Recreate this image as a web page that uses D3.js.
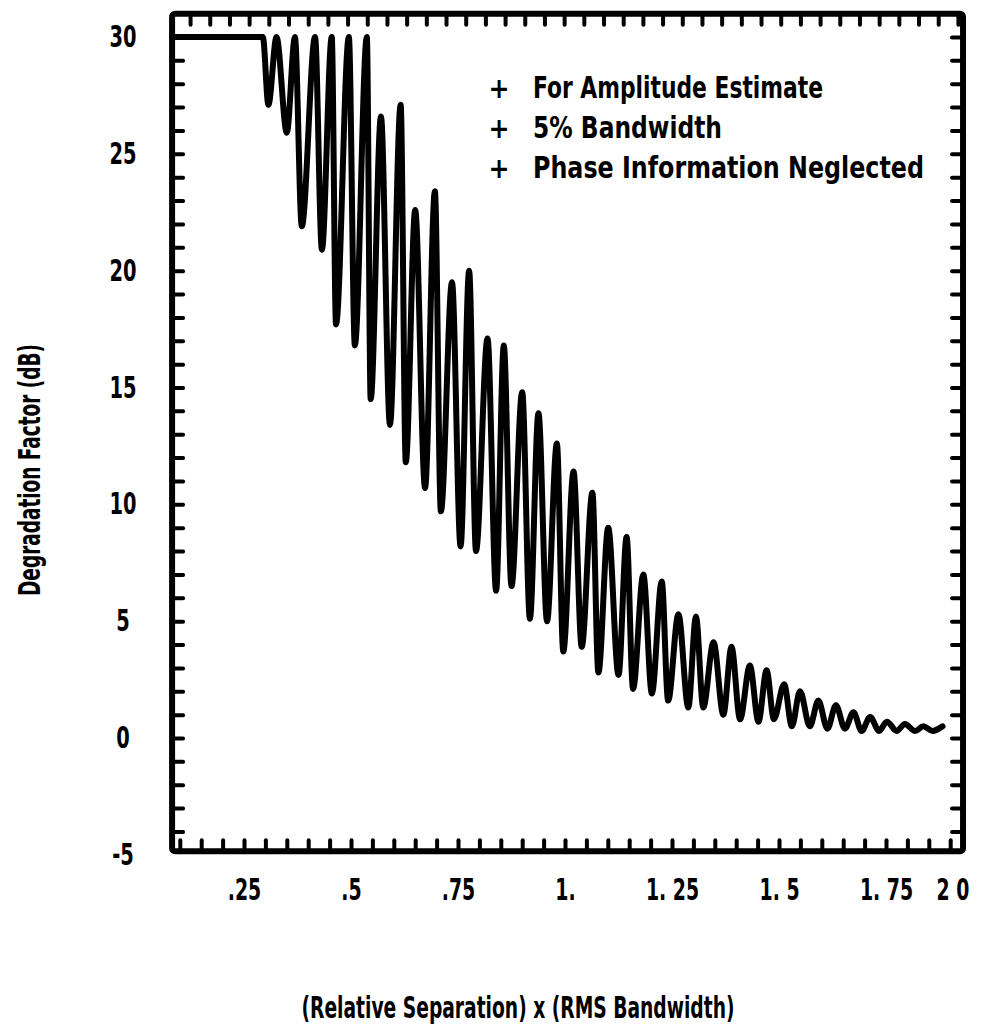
<!DOCTYPE html>
<html>
<head>
<meta charset="utf-8">
<script src="https://cdn.jsdelivr.net/npm/d3@7"></script>
<style>
  body { margin: 0; background: #fff; }
  svg { display: block; }
  text { font-family: "DejaVu Sans Condensed", "DejaVu Sans", sans-serif; font-weight: bold; fill: #000; }
</style>
</head>
<body>
<div id="chart-container"></div>
<script>
// curve: alternating peaks / troughs
const curveX = [0.082, 0.294, 0.307, 0.326, 0.350, 0.369, 0.385, 0.416, 0.432, 0.455,
  0.465, 0.495, 0.509, 0.537, 0.546, 0.570, 0.591, 0.616, 0.628, 0.650,
  0.673, 0.696, 0.710, 0.736, 0.756, 0.776, 0.792, 0.819, 0.839, 0.857,
  0.875, 0.900, 0.918, 0.938, 0.958, 0.981, 0.996, 1.020, 1.039, 1.064,
  1.078, 1.101, 1.125, 1.144, 1.159, 1.183, 1.203, 1.226, 1.241, 1.265,
  1.288, 1.306, 1.323, 1.347, 1.370, 1.389, 1.409, 1.432, 1.452, 1.471,
  1.488, 1.512, 1.530, 1.549, 1.572, 1.592, 1.613, 1.633, 1.654, 1.674,
  1.693, 1.713, 1.734, 1.752, 1.775, 1.794, 1.818, 1.837, 1.859, 1.882];
const curveDb = [30, 30, 27.1, 30, 25.9, 30, 21.9, 30, 20.9, 30,
  17.7, 30, 16.8, 30, 14.5, 26.6, 13.4, 27.1, 11.8, 22.6,
  10.7, 23.4, 9.7, 19.5, 8.2, 20.0, 8.0, 17.1, 6.3, 16.8,
  6.5, 14.8, 5.1, 13.9, 5.0, 12.6, 3.7, 11.4, 3.9, 10.5,
  2.8, 9.0, 2.7, 8.6, 2.1, 7.0, 1.9, 6.7, 1.6, 5.3,
  1.3, 5.2, 1.3, 4.1, 1.0, 3.9, 0.8, 3.1, 0.7, 2.9,
  0.8, 2.3, 0.5, 2.0, 0.5, 1.6, 0.4, 1.4, 0.4, 1.1,
  0.3, 0.9, 0.3, 0.7, 0.3, 0.6, 0.3, 0.5, 0.3, 0.5];

const yLabelValues = [30, 25, 20, 15, 10, 5, 0, -5];
const xLabelValues = [0.25, 0.5, 0.75, 1.0, 1.25, 1.5, 1.75, 1.905];
const xLabels = [".25", ".5", ".75", "1.", "1. 25", "1. 5", "1. 75", "2 0"];
const notes = ["For Amplitude Estimate", "5% Bandwidth", "Phase Information Neglected"];

// squash text horizontally (the original lettering is narrow)
function squeeze(sel, k) {
  sel.each(function () {
    const w = this.getComputedTextLength();
    d3.select(this).attr("textLength", w * k).attr("lengthAdjust", "spacingAndGlyphs");
  });
}

function chart() {
  const width = 984;
  const height = 1034;

  const x = d3.scaleLinear().domain([0.25, 1.75]).range([244, 886]);
  const y = d3.scaleLinear().domain([0, 30]).range([738, 37]);

  const frameX = [0.082, 1.93];
  const frameY = [-4.85, 31.0];
  const fl = x(frameX[0]), fr = x(frameX[1]);
  const ft = y(frameY[1]), fb = y(frameY[0]);

  const svg = d3.create("svg")
    .attr("width", width)
    .attr("height", height)
    .attr("viewBox", [0, 0, width, height]);

  // attach first so text can be measured
  d3.select("#chart-container").append(() => svg.node());

  svg.append("rect").attr("width", width).attr("height", height).attr("fill", "#fff");

  // inward ticks on all four sides
  const tickStyle = g => {
    g.select(".domain").remove();
    g.selectAll("line").attr("stroke", "#000").attr("stroke-width", 4).attr("stroke-linecap", "round");
  };
  const yTicks = d3.range(-4, 31, 1);
  svg.append("g").attr("transform", `translate(${fl},0)`)
    .call(d3.axisRight(y).tickValues(yTicks).tickSize(11).tickFormat(""))
    .call(tickStyle);
  svg.append("g").attr("transform", `translate(${fr},0)`)
    .call(d3.axisLeft(y).tickValues(yTicks).tickSize(11).tickFormat(""))
    .call(tickStyle);
  svg.append("g").attr("transform", `translate(0,${fb})`)
    .call(d3.axisTop(x).tickValues(d3.range(0.1, 1.91, 0.05)).tickSize(11).tickFormat(""))
    .call(tickStyle);
  svg.append("g").attr("transform", `translate(0,${ft})`)
    .call(d3.axisBottom(x).tickValues(d3.range(0.124, 1.92, 0.046)).tickSize(11).tickFormat(""))
    .call(tickStyle);

  // frame
  svg.append("rect")
    .attr("x", fl).attr("y", ft)
    .attr("width", fr - fl).attr("height", fb - ft)
    .attr("rx", 3)
    .attr("fill", "none").attr("stroke", "#000").attr("stroke-width", 6);

  // curve
  const pts = curveX.map((v, i) => [v, curveDb[i]]);
  const line = d3.line()
    .x(d => x(d[0]))
    .y(d => y(d[1]))
    .curve(d3.curveMonotoneX);
  svg.append("path")
    .datum(pts)
    .attr("d", line)
    .attr("fill", "none")
    .attr("stroke", "#000")
    .attr("stroke-width", 6)
    .attr("stroke-linejoin", "round")
    .attr("stroke-linecap", "round");

  // y labels
  const gy = svg.append("g").attr("transform", "translate(123,0)")
    .call(d3.axisLeft(y).tickValues(yLabelValues).tickSize(0).tickFormat(d => d < 0 ? "-" + (-d) : d));
  gy.select(".domain").remove();
  gy.attr("font-family", null).attr("font-size", 30);
  gy.selectAll("text").attr("x", 0).attr("text-anchor", "middle").call(squeeze, 0.72);

  // x labels
  const gx = svg.append("g").attr("transform", "translate(0,900)")
    .call(d3.axisBottom(x).tickValues(xLabelValues).tickSize(0).tickFormat((d, i) => xLabels[i]));
  gx.select(".domain").remove();
  gx.attr("font-family", null).attr("font-size", 30);
  gx.selectAll("text").attr("y", 0).attr("dy", 0).call(squeeze, 0.7);

  // notes
  const noteWidths = [290, 189, 391];
  const ng = svg.append("g");
  notes.forEach((t, i) => {
    const by = 98 + i * 40;
    ng.append("text").attr("x", 499).attr("y", by).attr("text-anchor", "middle")
      .attr("font-size", 28).text("+");
    ng.append("text").attr("x", 533).attr("y", by).attr("font-size", 30)
      .attr("textLength", noteWidths[i]).attr("lengthAdjust", "spacingAndGlyphs")
      .text(t);
  });

  // axis titles
  svg.append("text")
    .attr("transform", "translate(40,470) rotate(-90)")
    .attr("text-anchor", "middle")
    .attr("font-size", 31)
    .text("Degradation Factor (dB)")
    .attr("textLength", 252).attr("lengthAdjust", "spacingAndGlyphs");

  svg.append("text")
    .attr("x", 518).attr("y", 1018)
    .attr("text-anchor", "middle")
    .attr("font-size", 30)
    .text("(Relative Separation) x (RMS Bandwidth)")
    .attr("textLength", 433).attr("lengthAdjust", "spacingAndGlyphs");
}

chart();
</script>
</body>
</html>
